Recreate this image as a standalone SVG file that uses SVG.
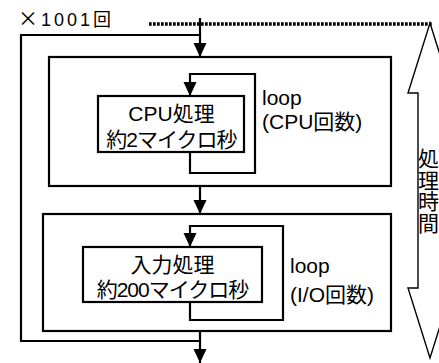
<svg xmlns="http://www.w3.org/2000/svg" width="439" height="363" viewBox="0 0 439 363">
  <defs>
    <marker id="head" markerUnits="userSpaceOnUse" markerWidth="14" markerHeight="16" viewBox="0 0 14 16" refX="14" refY="6.5" orient="auto">
      <path d="M0,0 L14,6.5 L0,13 Z" fill="#000"/>
    </marker>
    <style>
      .box { fill: #fff; stroke: #000; stroke-width: 2.2; }
      .wire { fill: none; stroke: #000; stroke-width: 2.2; }
      .arrow { fill: none; stroke: #000; stroke-width: 2.2; marker-end: url(#head); }
      .dots { fill: none; stroke: #000; stroke-width: 3.5; stroke-dasharray: 2.7 1.3; }
      .span { fill: #fff; stroke: #000; stroke-width: 1.4; stroke-linejoin: miter; }
      text { font-family: "Liberation Sans", "Noto Sans CJK JP", sans-serif; fill: #000; }
      .cjk { font-family: "Noto Sans CJK JP", sans-serif; font-size: 20px; }
      .lbl { font-size: 21px; text-anchor: middle; }
      .tight { letter-spacing: -1px; }
      .note { font-size: 21px; }
      .count { font-size: 18px; letter-spacing: 3px; }
      .vert { font-size: 21px; text-anchor: middle; }
    </style>
  </defs>
  <rect width="439" height="363" fill="#fff"/>

  <!-- elapsed-time span on the right -->
  <g id="time-span">
    <polygon class="span" points="430,23 452,93 442,93 442,288 452,288 430,358 408,288 418,288 418,93 408,93"/>
    <text class="vert" x="428.5" y="166">処</text>
    <text class="vert" x="428.5" y="187.5">理</text>
    <text class="vert" x="428.5" y="209">時</text>
    <text class="vert" x="428.5" y="230.5">間</text>
  </g>

  <!-- repeat count of the whole run -->
  <g id="repeat">
    <text class="count" x="18" y="26"><tspan class="cjk">×</tspan>1001回</text>
  </g>

  <g id="cpu-block">
    <rect class="box" x="49" y="57" width="342" height="129"/>
  </g>
  <g id="cpu-step">
    <rect class="box" x="98" y="96" width="146" height="56"/>
    <text class="lbl" x="171.5" y="121">CPU処理</text>
    <text class="lbl tight" x="171.5" y="147">約2マイクロ秒</text>
  </g>
  <g id="cpu-loop-label">
    <text class="note" x="262" y="105">loop</text>
    <text class="note" x="262" y="129">(CPU回数)</text>
  </g>

  <g id="io-block">
    <rect class="box" x="43" y="214" width="348" height="117"/>
  </g>
  <g id="io-step">
    <rect class="box" x="83" y="247" width="179" height="55"/>
    <text class="lbl" x="172.5" y="272">入力処理</text>
    <text class="lbl tight" x="172.5" y="297">約200マイクロ秒</text>
  </g>
  <g id="io-loop-label">
    <text class="note" x="290" y="273">loop</text>
    <text class="note" x="290" y="302">(I/O回数)</text>
  </g>

  <g id="connectors">
    <path class="dots" d="M149,24 H432"/>
    <path class="wire" d="M200,341 H21 V35 H200"/>
    <path class="arrow" d="M200,18 V57"/>
    <path class="arrow" d="M190,152 V173 H255 V74 H190 V96"/>
    <path class="arrow" d="M200,186 V214"/>
    <path class="arrow" d="M190,302 V320 H283 V226 H190 V247"/>
    <path class="arrow" d="M200,331 V363"/>
  </g>
</svg>
